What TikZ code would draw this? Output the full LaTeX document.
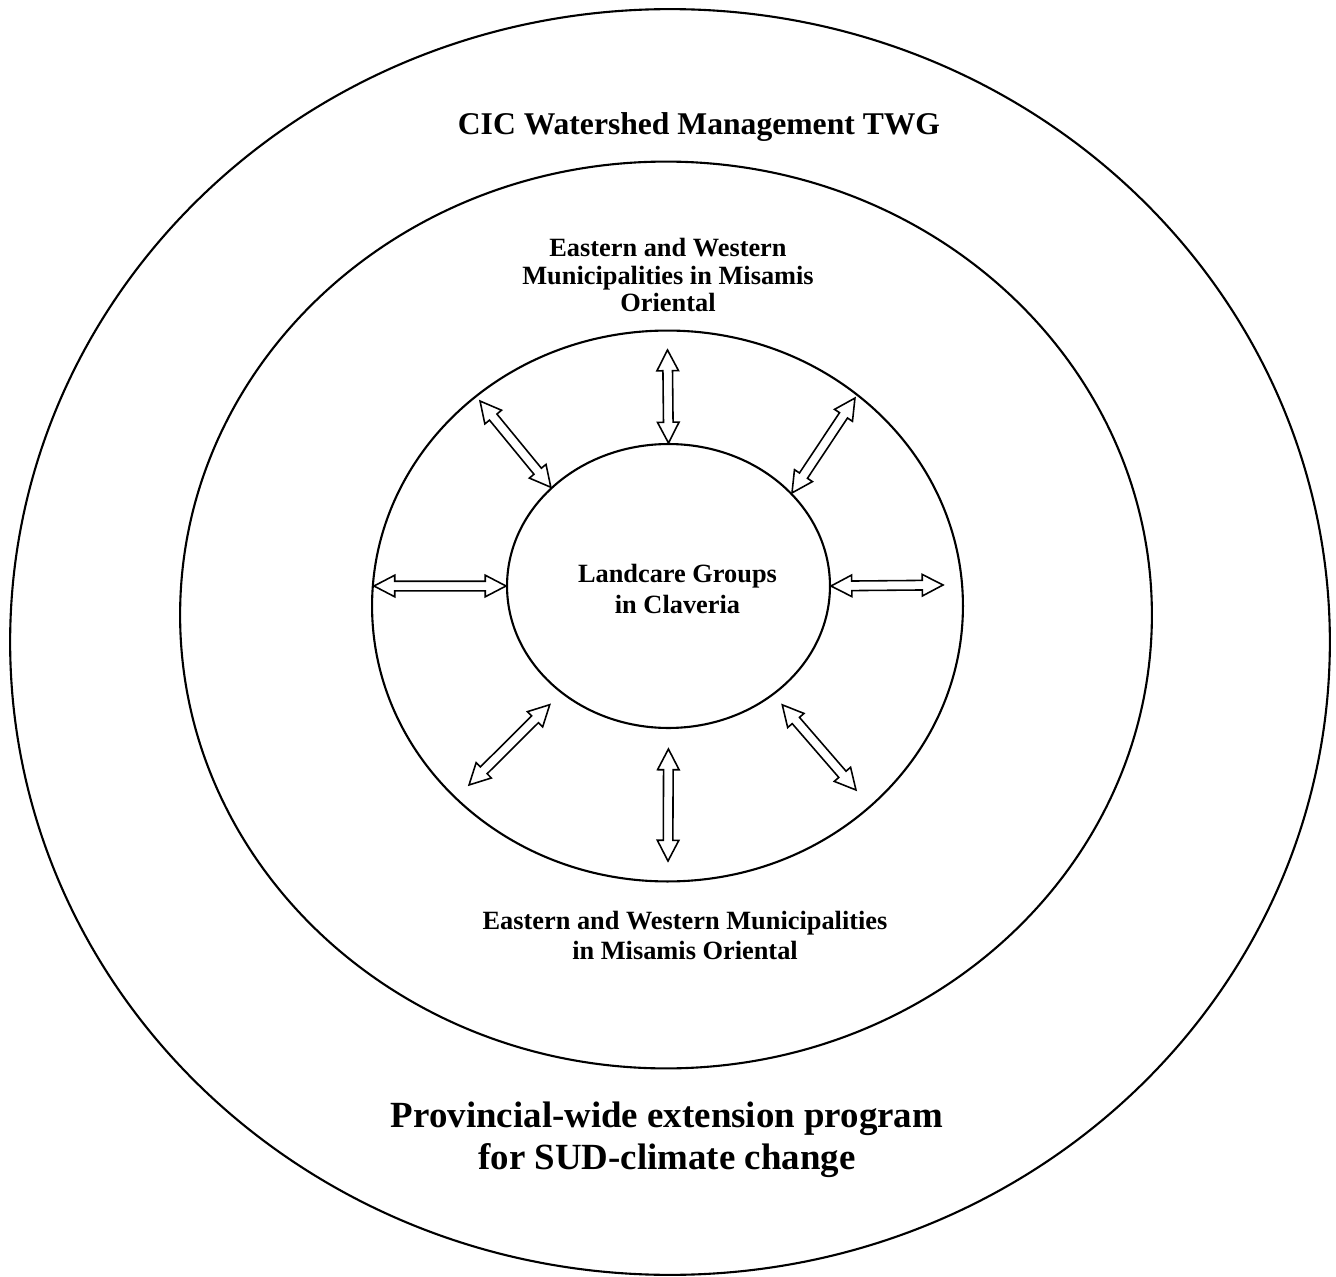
\documentclass[tikz,border=0pt]{standalone}
\usepackage{fontspec}
\setmainfont{Liberation Serif}
\usetikzlibrary{shapes.geometric,shapes.arrows,calc}

\newcommand{\linkarrow}[3][0pt]{%
  \path let \p1=($(#2)!#1!(#3)$), \p2=(#3), \n1={veclen(\x2-\x1,\y2-\y1)} in
    (\p1) -- (\p2) node[link arrow, midway, sloped, minimum height=\n1] {};}

\begin{document}
\begin{tikzpicture}[x=0.02cm,y=-0.02cm,
                    ring/.style={ellipse,draw,line width=1.2pt,inner sep=0pt},
                    link arrow/.style={double arrow,draw,line width=0.9pt,fill=white,
                      inner sep=0pt,inner ysep=0.08cm,minimum width=0pt,
                      double arrow head extend=0.12cm,double arrow tip angle=55},
                    label/.style={inner sep=0pt,align=center,anchor=base,font=\bfseries}]

  \useasboundingbox (0,0) rectangle (1336,1277);

  \node[ring, minimum width=26.4cm, minimum height=25.32cm] (province) at (670,642) {};
  \node[ring, minimum width=19.44cm, minimum height=18.14cm] (cic) at (666,615) {};
  \node[ring, minimum width=11.82cm, minimum height=11.02cm] (municip) at (667.5,606) {};
  \node[ring, minimum width=6.46cm, minimum height=5.68cm] (landcare) at (668.5,586) {};

  % labels sit on the baseline of their last line
  \node[label, font=\bfseries\fontsize{18}{21}\selectfont] (cic text) at (699,135)
    {CIC Watershed Management TWG};
  \node[label, font=\bfseries\fontsize{15}{15.9}\selectfont] (upper text) at (668,312)
    {Eastern and Western\\Municipalities in Misamis\\Oriental};
  \node[label, font=\bfseries\fontsize{15}{17.6}\selectfont] (landcare text) at (677.5,613)
    {Landcare Groups\\in Claveria};
  \node[label, font=\bfseries\fontsize{15}{17}\selectfont] (lower text) at (685,959)
    {Eastern and Western Municipalities\\in Misamis Oriental};
  \node[label, font=\bfseries\fontsize{21}{23.8}\selectfont] (province text) at (667,1169)
    {Provincial-wide extension program\\for SUD-climate change};

  % free ends of the arrows
  \coordinate (n)  at (667.5,350);
  \coordinate (ne) at (855,398);
  \coordinate (e)  at (943,585);
  \coordinate (se) at (856,790);
  \coordinate (s)  at (668,861);
  \coordinate (sw) at (469,785);
  \coordinate (w)  at (374,586);
  \coordinate (nw) at (480,401);

  \linkarrow{landcare.90}{n}
  \linkarrow{landcare.37}{ne}
  \linkarrow{landcare.0}{e}
  \linkarrow[0.26cm]{landcare.314.6}{se}
  \linkarrow[0.4cm]{landcare.270}{s}
  \linkarrow[0.32cm]{landcare.225.4}{sw}
  \linkarrow{landcare.180}{w}
  \linkarrow{landcare.140}{nw}
\end{tikzpicture}
\end{document}
